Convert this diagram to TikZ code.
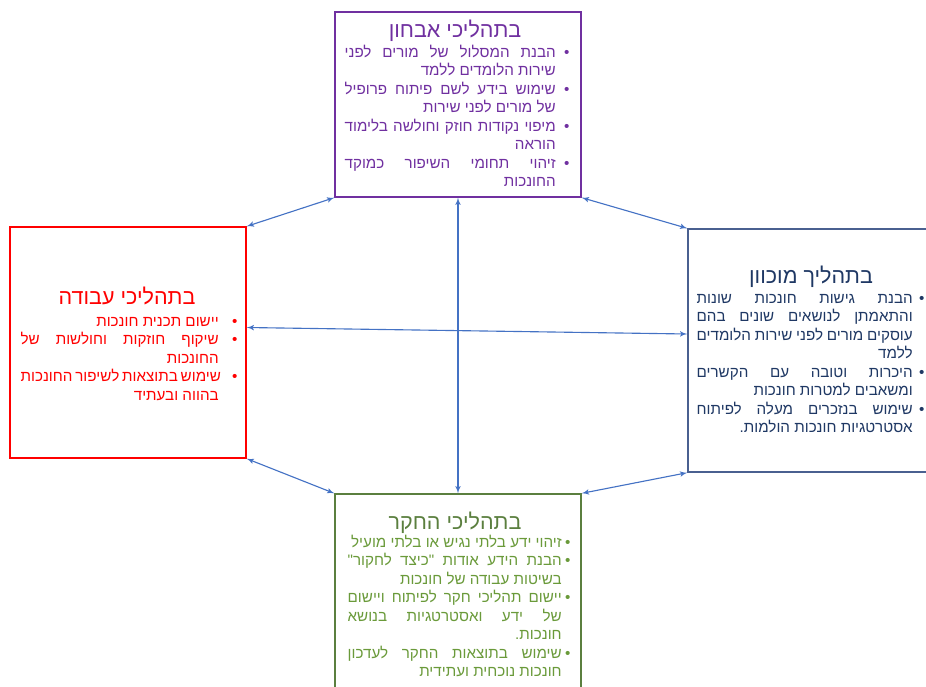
\documentclass[tikz,border=0pt]{standalone}
\usepackage{fontspec}
\setmainfont{Liberation Sans}
\newfontfamily\hebfont[Script=Hebrew]{Liberation Sans}
\TeXXeTstate=1
\usepackage{tikz}
\usetikzlibrary{arrows}
\definecolor{diagc}{HTML}{7030A0}
\definecolor{workc}{HTML}{FF0000}
\definecolor{guidc}{HTML}{4A6090}
\definecolor{guidt}{HTML}{1F3864}
\definecolor{inqc}{HTML}{5B7F3F}
\definecolor{inqt}{HTML}{6A9A3A}
\definecolor{linkc}{HTML}{4472C4}
\newlength{\txtw}
\newlength{\bgap}
\newcommand{\setlines}[2]{\txtw=#1\relax\bgap=#2\relax\baselineskip=13.2pt\relax}
\newcommand{\hbul}{\hbox to \bgap{\hfil\hbox to 0pt{\hss\textbullet\hss}}}
\newcommand{\hitemj}[1]{\hbox{\hbox to \txtw{\beginR #1\endR}\hbul}}
\newcommand{\hitemr}[1]{\hbox{\hbox to \txtw{\hfil\beginR #1\endR}\hbul}}
\newcommand{\hlinej}[1]{\hbox{\hbox to \txtw{\beginR #1\endR}\hskip\bgap}}
\newcommand{\hliner}[1]{\hbox{\hbox to \txtw{\hfil\beginR #1\endR}\hskip\bgap}}

\begin{document}
\begin{tikzpicture}[x=0.025cm,y=-0.025cm]
  \tikzstyle{box}=[draw,inner sep=0pt,line width=0.9pt,minimum width=6.15cm]
  \tikzstyle{title}=[anchor=base,inner sep=0pt,font=\hebfont\fontsize{15.3}{18}\selectfont]
  \tikzstyle{body}=[anchor=base east,inner sep=0pt,font=\hebfont\fontsize{10.8}{13.2}\selectfont]
  \tikzstyle{link}=[<->,>=latex',draw=linkc,line width=0.8pt]

  \useasboundingbox (0,0) rectangle (926,686);
  \clip (0,0) rectangle (926,686);

  \node[box,draw=diagc,minimum height=4.625cm]                    (D) at (458,104.5) {};
  \node[box,draw=workc,minimum width=5.9cm,minimum height=5.775cm] (W) at (128,342.5) {};
  \node[box,draw=guidc,minimum width=6.25cm,minimum height=6.075cm](G) at (813,350.5) {};
  \node[box,draw=inqc,minimum height=5.5cm]                       (I) at (458,604) {};

  \node[title,text=diagc] (DT) at (455,37)  {\beginR בתהליכי אבחון\endR};
  \node[title,text=workc] (WT) at (127,304) {\beginR בתהליכי עבודה\endR};
  \node[title,text=guidt] (GT) at (811,283) {\beginR בתהליך מוכוון\endR};
  \node[title,text=inqc]  (IT) at (455,529) {\beginR בתהליכי החקר\endR};

  \node[body,text=diagc] (DB) at (567,57) {\vtop{\setlines{5.275cm}{0.275cm}
    \hitemj{הבנת המסלול של מורים לפני}
    \hliner{שירות הלומדים ללמד}
    \hitemj{שימוש בידע לשם פיתוח פרופיל}
    \hliner{של מורים לפני שירות}
    \hitemj{מיפוי נקודות חוזק וחולשה בלימוד}
    \hliner{הוראה}
    \hitemj{זיהוי תחומי השיפור כמוקד}
    \hliner{החונכות}}};
  \node[body,text=workc] (WB) at (235,326) {\vtop{\setlines{4.95cm}{0.4cm}
    \hitemr{יישום תכנית חונכות}
    \hitemj{שיקוף חוזקות וחולשות של}
    \hliner{החונכות}
    \hitemj{שימוש בתוצאות לשיפור החונכות}
    \hliner{בהווה ובעתיד}}};
  \node[body,text=guidt] (GB) at (922,303) {\vtop{\setlines{5.4cm}{0.225cm}
    \hitemj{הבנת גישות חונכות שונות}
    \hlinej{והתאמתן לנושאים שונים בהם}
    \hlinej{עוסקים מורים לפני שירות הלומדים}
    \hliner{ללמד}
    \hitemj{היכרות וטובה עם הקשרים}
    \hliner{ומשאבים למטרות חונכות}
    \hitemj{שימוש בנזכרים מעלה לפיתוח}
    \hliner{אסטרטגיות חונכות הולמות.}}};
  \node[body,text=inqt] (IB) at (568,547) {\vtop{\setlines{5.35cm}{0.15cm}
    \hitemr{זיהוי ידע בלתי נגיש או בלתי מועיל}
    \hitemj{הבנת הידע אודות "כיצד לחקור"}
    \hliner{בשיטות עבודה של חונכות}
    \hitemj{יישום תהליכי חקר לפיתוח ויישום}
    \hlinej{של ידע ואסטרטגיות בנושא}
    \hliner{חונכות.}
    \hitemj{שימוש בתוצאות החקר לעדכון}
    \hliner{חונכות נוכחית ועתידית}}};

  \draw[link] (D.south west) -- (W.north east);
  \draw[link] (D.south east) -- (G.north west);
  \draw[link] (W.south east) -- (I.north west);
  \draw[link] (G.south west) -- (I.north east);
  \draw[link] (D.south) -- (I.north);
  \draw[link] ([yshift=0.375cm]W.east) -- ([yshift=0.4125cm]G.west);
\end{tikzpicture}
\end{document}
